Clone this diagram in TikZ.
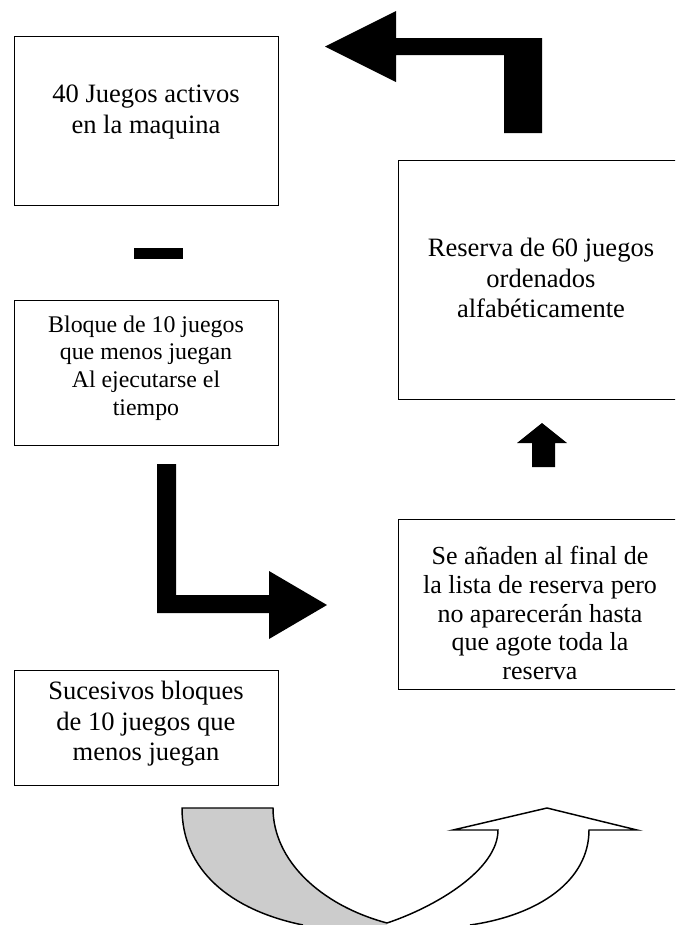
\documentclass[tikz,border=0pt]{standalone}
\usepackage{fontspec}
\setmainfont{Liberation Serif}
\definecolor{greyfill}{RGB}{204,204,204}
\tikzset{
  box/.style={draw, line width=1pt, anchor=north west, inner sep=0pt, minimum width=198pt},
  rbox/.style={box, minimum width=214.5pt},
  txt/.style={align=center, inner sep=0pt, font={\fontsize{19.9}{22.95}\selectfont}},
  blockarrow/.style={fill=black},
  outline/.style={draw=black, line width=1.1pt, line join=miter}
}
\begin{document}
\begin{tikzpicture}[x=0.75pt, y=-0.75pt]
\useasboundingbox (0,0) rectangle (675,925);
\fill[white] (0,0) rectangle (675,925);
\clip (0,0) rectangle (675,925);

% boxes
\node[box, minimum height=126.75pt] (b1) at (14,36) {};
\node[rbox, minimum height=179.25pt] (bres) at (398,160) {};
\node[box, minimum height=108.75pt] (bblo) at (14,300) {};
\node[rbox, minimum height=127.5pt] (bse) at (398,519) {};
\node[box, minimum height=86.25pt] (bsuc) at (14,670) {};

% texts
\node[txt] (t1) at (146,112) {40 Juegos activos\\en la maquina};
\node[txt] (tres) at (541,278) {Reserva de 60 juegos\\ordenados\\alfabéticamente};
\node[txt, font={\fontsize{17.9}{20.85}\selectfont}] (tblo) at (146,368) {Bloque de 10 juegos\\que menos juegan\\Al ejecutarse el\\tiempo};
\node[txt, font={\fontsize{19.5}{21.45}\selectfont}] (tse) at (540,613) {Se añaden al final de\\la lista de reserva pero\\no aparecerán hasta\\que agote toda la\\reserva};
\node[txt] (tsuc) at (146,724) {Sucesivos bloques\\de 10 juegos que\\menos juegan};

% bent arrow at top (from reserve to active games)
\fill[blockarrow] (325,46.5) -- (396,11) -- (396,38) -- (542,38) -- (542,133)
  -- (504,133) -- (504,55) -- (396,55) -- (396,82) -- cycle;

% short bar
\fill[blockarrow] (134,248) rectangle (183,259);

% L-shaped arrow
\fill[blockarrow] (157,464) -- (176,464) -- (176,595) -- (269,595) -- (269,571)
  -- (327,605) -- (269,639) -- (269,613) -- (157,613) -- cycle;

% up arrow
\fill[blockarrow] (542,423) -- (567,443) -- (555,443) -- (555,467) -- (532,467)
  -- (532,443) -- (517,443) -- cycle;

% curved up arrow: grey part
\fill[greyfill] (182,808) -- (273,808) .. controls (273,860) and (320,905) .. (387,923)
  -- (387,930) -- (303,930) -- (303,925) .. controls (230,910) and (182,870) .. (182,808) -- cycle;
\draw[outline] (303,925) .. controls (230,910) and (182,870) .. (182,808) -- (273,808)
  .. controls (273,860) and (320,905) .. (387,923);
% curved up arrow: white part
\draw[outline] (387,923) .. controls (435,907) and (498,870) .. (498,830) -- (453,830)
  -- (547,808) -- (637,830) -- (589,830) .. controls (589,880) and (540,915) .. (470,925);
\end{tikzpicture}
\end{document}
